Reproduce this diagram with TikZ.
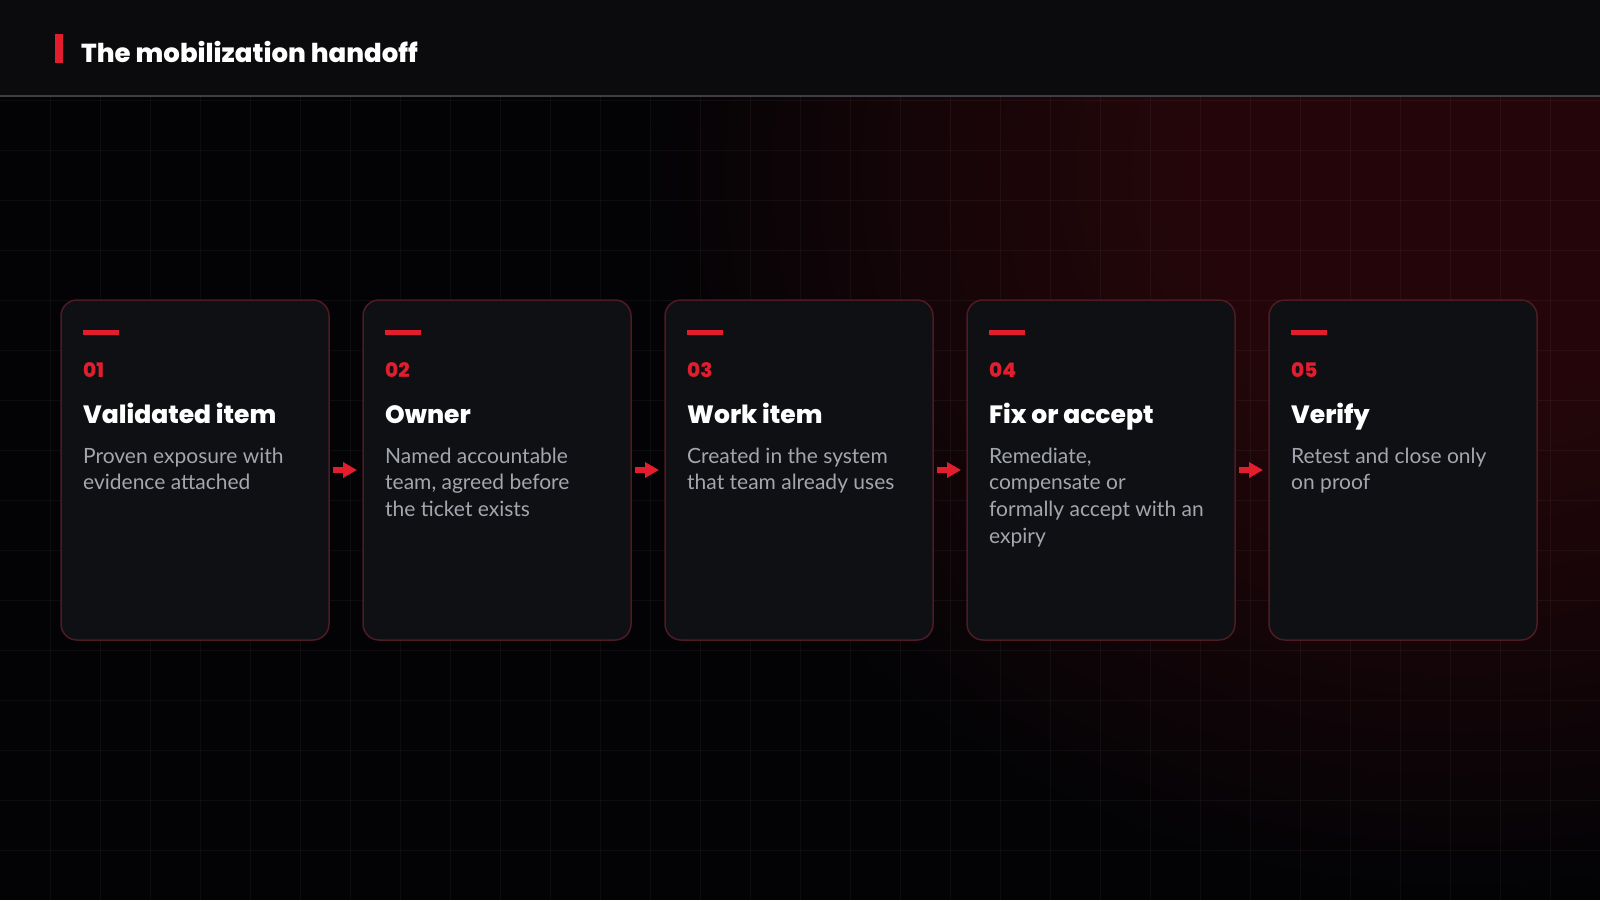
\documentclass[tikz,border=0pt]{standalone}
\usepackage{fontspec}
\usetikzlibrary{arrows.meta}
\newfontfamily\headfont{Poppins}[BoldFont={Poppins ExtraBold}]
\newfontfamily\bodyfont{Lato}
\definecolor{bgc}{RGB}{3,3,5}
\definecolor{headbg}{RGB}{11,11,14}
\definecolor{hline}{RGB}{62,62,68}
\definecolor{glowc}{RGB}{36,6,10}
\definecolor{glowm}{RGB}{22,5,8}
\definecolor{cardfill}{RGB}{15,16,20}
\definecolor{cardline}{RGB}{78,26,36}
\definecolor{accent}{RGB}{226,29,46}
\definecolor{bodygray}{RGB}{163,166,173}
\pgfdeclareradialshading{glowshade}{\pgfpoint{0bp}{0bp}}{color(0bp)=(glowc); color(8bp)=(glowc); color(16bp)=(glowm); color(25bp)=(bgc); color(50bp)=(bgc)}
\tikzset{
  card/.style={draw=cardline, line width=1.5pt, fill=cardfill, rounded corners=16pt,
    minimum width=268pt, minimum height=340pt, inner sep=0pt, outer sep=0pt},
  numtext/.style={anchor=base west, inner sep=0pt, text=accent, font=\headfont\bfseries\fontsize{20}{24}\selectfont},
  titletext/.style={anchor=base west, inner sep=0pt, text=white, font=\headfont\bfseries\fontsize{25}{30}\selectfont},
  bodytext/.style={anchor=base west, inner sep=0pt, text=bodygray, font=\bodyfont\fontsize{21}{26}\selectfont},
  flow/.style={draw=accent, line width=5.5pt, -{Triangle[length=14pt,width=15pt]}, shorten <=4pt, shorten >=6pt},
  gridline/.style={draw=white, draw opacity=0.045, line width=1pt}
}
\newcommand\stepcard[5]{%
  \node[card] (c#1) at (#2+134,470) {};
  \fill[accent] (#2+22,330) rectangle (#2+58,335);
  \node[numtext] (n#1) at (#2+22,377) {#3};
  \node[titletext] (t#1) at (#2+22,423) {#4};
  \foreach \ln [count=\k] in {#5} {
    \node[bodytext] (b#1-\k) at (#2+22, 463+26.7*\k-26.7) {\ln};
  }
}
\begin{document}
\begin{tikzpicture}[x=1pt,y=-1pt]
\useasboundingbox (0,0) rectangle (1600,900);
\fill[bgc] (0,0) rectangle (1600,900);
\begin{scope}
  \clip (0,97) rectangle (1600,900);
  \shade[shading=glowshade] (1460,170) ellipse [x radius=820, y radius=720];
  \foreach \gx in {50,100,...,1550} { \draw[gridline] (\gx,97) -- (\gx,900); }
  \foreach \gy in {100,150,...,850} { \draw[gridline] (0,\gy) -- (1600,\gy); }
\end{scope}
\fill[headbg] (0,0) rectangle (1600,96);
\draw[hline, line width=2pt] (0,96) -- (1600,96);
\fill[accent] (55,34) rectangle (63,63);
\node[anchor=base west, inner sep=0pt, text=white, font=\headfont\bfseries\fontsize{26}{34}\selectfont] (title) at (81,62) {The mobilization handoff};
\stepcard{1}{61}{01}{Validated item}{Proven exposure with,evidence attached}
\stepcard{2}{363}{02}{Owner}{Named accountable,{team, agreed before},the ticket exists}
\stepcard{3}{665}{03}{Work item}{Created in the system,that team already uses}
\stepcard{4}{967}{04}{Fix or accept}{{Remediate,},compensate or,formally accept with an,expiry}
\stepcard{5}{1269}{05}{Verify}{Retest and close only,on proof}
\draw[flow] (c1.east) -- (c2.west);
\draw[flow] (c2.east) -- (c3.west);
\draw[flow] (c3.east) -- (c4.west);
\draw[flow] (c4.east) -- (c5.west);
\end{tikzpicture}
\end{document}
